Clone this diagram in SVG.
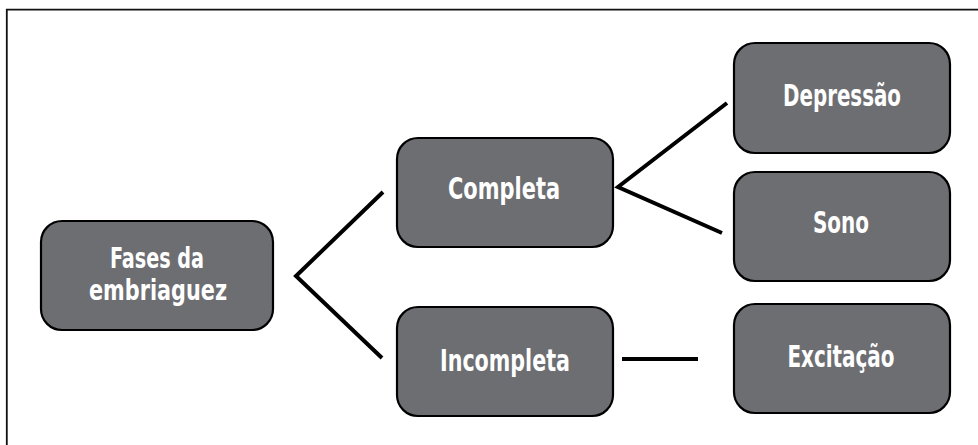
<svg xmlns="http://www.w3.org/2000/svg" width="978" height="445" viewBox="0 0 978 445">
<style>
.box{fill:#6d6e72;stroke:#000;stroke-width:2.2}
.lbl{font-family:"Liberation Sans Narrow","DejaVu Sans Condensed","Liberation Sans",sans-serif;font-weight:bold;font-size:31px;fill:#fff;text-anchor:middle}
.sm{font-size:28px}
.con{fill:none;stroke:#000;stroke-width:4;stroke-linejoin:miter}
</style>
<rect width="978" height="445" fill="#fff"/>
<path d="M6.8,445 V9.6 H978" fill="none" stroke="#111" stroke-width="1.8"/>
<g id="connectors">
<polyline class="con" points="383,192 296,276 382,358"/>
<polyline class="con" points="727,103 618,187 722,233"/>
<line class="con" x1="622" y1="359" x2="698" y2="359"/>
</g>
<g id="fases">
<rect class="box" x="41" y="221" width="232" height="109" rx="21"/>
<text class="lbl sm" x="157" y="268" textLength="94" lengthAdjust="spacingAndGlyphs">Fases da</text>
<text class="lbl sm" x="158" y="300" textLength="138" lengthAdjust="spacingAndGlyphs">embriaguez</text>
</g>
<g id="completa">
<rect class="box" x="397" y="138" width="216" height="109" rx="21"/>
<text class="lbl" x="504" y="199" textLength="112" lengthAdjust="spacingAndGlyphs">Completa</text>
</g>
<g id="incompleta">
<rect class="box" x="397" y="307" width="216" height="109" rx="21"/>
<text class="lbl" x="505" y="371" textLength="130" lengthAdjust="spacingAndGlyphs">Incompleta</text>
</g>
<g id="depressao">
<rect class="box" x="734" y="43" width="216" height="110" rx="21"/>
<text class="lbl" x="842" y="106" textLength="118" lengthAdjust="spacingAndGlyphs">Depressão</text>
</g>
<g id="sono">
<rect class="box" x="734" y="172" width="216" height="109" rx="21"/>
<text class="lbl" x="841" y="233" textLength="56" lengthAdjust="spacingAndGlyphs">Sono</text>
</g>
<g id="excitacao">
<rect class="box" x="734" y="304" width="216" height="109" rx="21"/>
<text class="lbl" x="841" y="367" textLength="107" lengthAdjust="spacingAndGlyphs">Excitação</text>
</g>
</svg>
